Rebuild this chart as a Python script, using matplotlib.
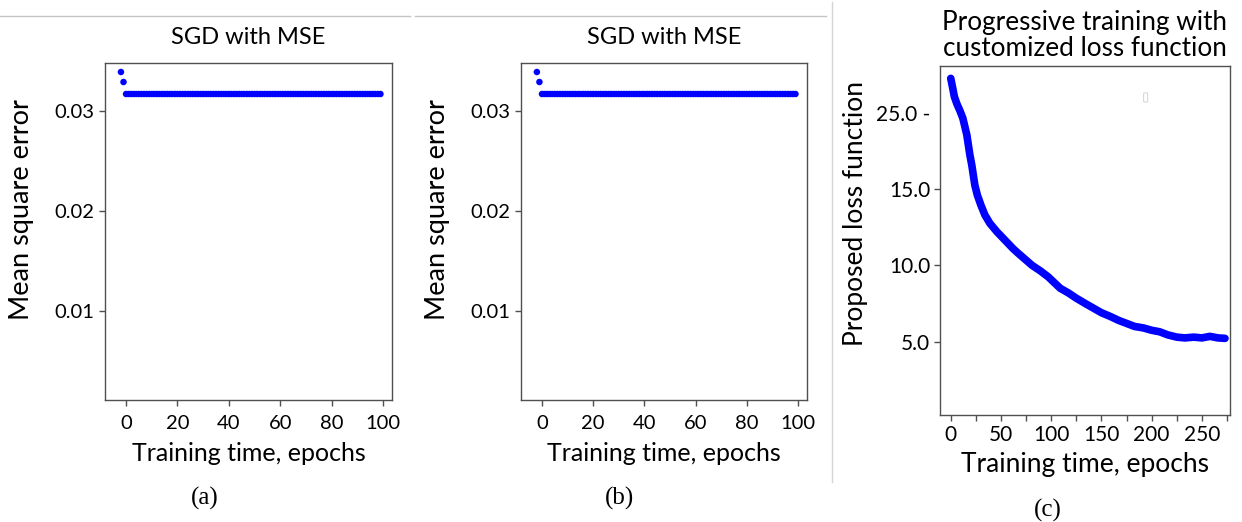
import matplotlib
matplotlib.use("Agg")
import matplotlib.pyplot as plt
from matplotlib.lines import Line2D
from matplotlib.patches import FancyBboxPatch

# --- data ---
# (a) and (b): SGD with MSE, one dot per epoch
epochs_sgd = list(range(-2, 100))
mse_sgd = [0.0339, 0.0329] + [0.0317] * 100

# (c): progressive training, proposed loss (in the plot's own y-units)
epochs_prog = [0, 2, 3.6, 6, 9, 12, 14, 16, 17.5, 19, 21, 22.5, 24, 26.5, 30,
               34, 39, 46, 54, 62, 67, 74, 81, 89, 97, 109, 117, 125, 134,
               142, 150, 159, 167, 175, 183, 192, 200, 208, 216, 225, 233,
               242, 250, 258, 266, 273]
loss_prog = [22.25, 21.6, 21.05, 20.6, 20.15, 19.65, 19.1, 18.55, 17.9, 17.25,
             16.55, 15.9, 15.25, 14.6, 13.95, 13.3, 12.75, 12.2, 11.65, 11.1,
             10.8, 10.4, 10.0, 9.65, 9.25, 8.5, 8.2, 7.85, 7.5, 7.2, 6.9,
             6.65, 6.4, 6.2, 6.0, 5.9, 5.75, 5.65, 5.45, 5.3, 5.25, 5.3,
             5.25, 5.35, 5.25, 5.22]

sgd_yticks = [0.01, 0.02, 0.03]
sgd_yticklabels = ["0.01", "0.02", "0.03"]
sgd_xticks = [0, 20, 40, 60, 80, 100]

prog_yticks = [20, 15, 10, 5]
prog_yticklabels = ["25.0 -", "15.0", "10.0", "5.0"]
prog_xticks = [0, 25, 50, 75, 100, 125, 150, 175, 200, 225, 250, 275]
prog_xticklabels = ["0", "", "50", "", "100", "", "150", "", "200", "", "250", ""]

plt.rcParams["font.family"] = ["Lato", "DejaVu Sans"]

W, H = 1242, 522
fig = plt.figure(figsize=(W / 100, H / 100), dpi=100)
fig.patch.set_facecolor("white")

spine_col = "#505050"


def style_axes(ax, tick_size, pad):
    for s in ax.spines.values():
        s.set_color(spine_col)
        s.set_linewidth(1.0)
    ax.tick_params(axis="both", direction="out", length=4, width=1,
                   color=spine_col, labelsize=tick_size, pad=pad)


def sgd_panel(ax):
    ax.scatter(epochs_sgd, mse_sgd, s=22, color="#0000ff", edgecolors="none")
    ax.set_xlim(-8.2, 103.5)
    ax.set_ylim(0.0011, 0.0348)
    ax.set_yticks(sgd_yticks)
    ax.set_yticklabels(sgd_yticklabels)
    ax.set_xticks(sgd_xticks)
    style_axes(ax, 14.5, 4)
    ax.tick_params(axis="x", pad=7)
    ax.set_title("SGD with MSE", fontsize=17, pad=14)
    ax.set_xlabel("Training time, epochs", fontsize=18, labelpad=7)
    ax.set_ylabel("Mean square error", fontsize=19.5, labelpad=14)
    ax.yaxis.label.set_y(0.564)


ax_a = fig.add_axes([105 / W, 1 - 400 / H, 287 / W, 337 / H])
sgd_panel(ax_a)
ax_b = fig.add_axes([521 / W, 1 - 400 / H, 286 / W, 337 / H])
sgd_panel(ax_b)

# panel (c)
ax_c = fig.add_axes([940 / W, 1 - 415 / H, 290 / W, 349 / H])
ax_c.plot(epochs_prog, loss_prog, color="#0000ff", lw=5.5,
          solid_capstyle="round", solid_joinstyle="round")
ax_c.set_xlim(-10.7, 278)
ax_c.set_ylim(0.2, 23.06)
ax_c.set_yticks(prog_yticks)
ax_c.set_yticklabels(prog_yticklabels)
ax_c.set_xticks(prog_xticks)
ax_c.set_xticklabels(prog_xticklabels)
style_axes(ax_c, 15, 3)
ax_c.yaxis.get_major_ticks()[0].tick1line.set_visible(False)
ax_c.set_title("Progressive training with\ncustomized loss function",
               fontsize=18.8, pad=7, linespacing=1.05)
ax_c.set_xlabel("Training time, epochs", fontsize=19, labelpad=5)
ax_c.set_ylabel("Proposed loss function", fontsize=19, labelpad=6)
ax_c.yaxis.label.set_y(0.576)
# faint empty legend box left in the original
ax_c.add_patch(FancyBboxPatch((0.705, 0.9), 0.008, 0.02,
                              boxstyle="round,pad=0.003", transform=ax_c.transAxes,
                              facecolor="white", edgecolor="#d8d8d8", lw=0.8))

# captions
fig.text(205 / W, 1 - 498 / H, "(a)", family="Liberation Serif", fontsize=18,
         ha="center", va="center")
fig.text(620 / W, 1 - 498 / H, "(b)", family="Liberation Serif", fontsize=18,
         ha="center", va="center")
fig.text(1048 / W, 1 - 510 / H, "(c)", family="Liberation Serif", fontsize=18,
         ha="center", va="center")

# screenshot separators
fig.add_artist(Line2D([0, 410 / W], [1 - 16 / H] * 2, color="#c4c4c4", lw=1))
fig.add_artist(Line2D([415 / W, 826 / W], [1 - 16 / H] * 2, color="#c4c4c4", lw=1))
fig.add_artist(Line2D([831.5 / W] * 2, [1 - 2 / H, 1 - 482 / H], color="#d4d4d4", lw=1))

fig.savefig("out.png", dpi=100, facecolor="white")
